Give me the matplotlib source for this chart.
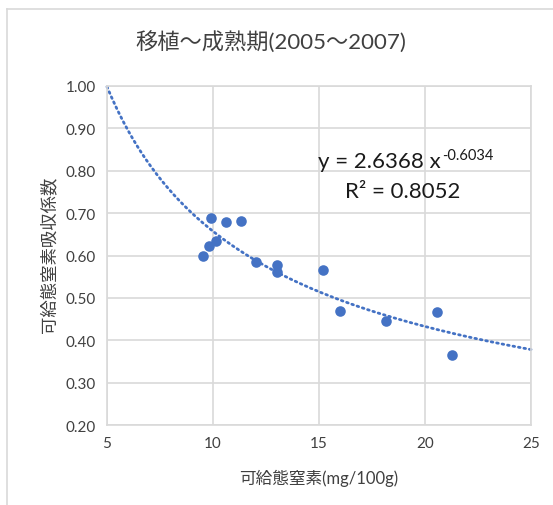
import numpy as np
import matplotlib
matplotlib.use("Agg")
import matplotlib.pyplot as plt
from matplotlib.lines import Line2D

plt.rcParams['font.family'] = ['Lato', 'Noto Sans CJK JP', 'DejaVu Sans']

# Available soil nitrogen (mg/100g) vs. nitrogen uptake coefficient
nitrogen = [9.53, 9.83, 10.13, 9.92, 10.63, 11.32, 12.03, 13.02, 13.02,
            15.19, 15.99, 18.18, 20.58, 21.25]
coef = [0.600, 0.622, 0.634, 0.688, 0.680, 0.682, 0.584, 0.578, 0.562,
        0.566, 0.469, 0.445, 0.466, 0.366]

# Power trendline y = a * x^b
fit_a = 2.6368
fit_b = -0.6034
fit_r2 = 0.8052

x_ticks = [5, 10, 15, 20, 25]
y_ticks = [0.20, 0.30, 0.40, 0.50, 0.60, 0.70, 0.80, 0.90, 1.00]

title = "移植～成熟期(2005～2007)"
x_label = "可給態窒素(mg/100g)"
y_label = "可給態窒素吸収係数"

W, H = 553, 506
fig = plt.figure(figsize=(W / 100, H / 100), dpi=100)


def fx(px):
    return px / W


def fy(py):
    return 1 - py / H


grid_c = "#d9d9d9"
blue = "#4472C4"
label_c = "#404040"

# chart frame (top and left edges)
fig.add_artist(Line2D([fx(7), 1.0], [fy(10), fy(10)], color=grid_c, lw=1.2,
                      transform=fig.transFigure))
fig.add_artist(Line2D([fx(7), fx(7)], [0.0, fy(10)], color=grid_c, lw=1.2,
                      transform=fig.transFigure))

left, right, top, bottom = 107, 531, 87, 426
ax = fig.add_axes([fx(left), fy(bottom), (right - left) / W, (bottom - top) / H])

ax.set_xlim(5, 25)
ax.set_ylim(0.2, 1.0)
ax.set_xticks(x_ticks)
ax.set_yticks(y_ticks)
ax.set_yticklabels([f"{v:.2f}" for v in y_ticks])
ax.grid(True, color=grid_c, lw=1.2)
ax.set_axisbelow(True)
for s in ax.spines.values():
    s.set_color(grid_c)
    s.set_linewidth(1.2)
ax.tick_params(length=0, labelsize=11, colors=label_c, pad=8)

xs = np.linspace(5, 25, 300)
ax.plot(xs, fit_a * xs ** fit_b, color=blue, lw=2.0, ls=(0, (0.6, 1.4)),
        dash_capstyle="round", zorder=2, clip_on=False)
ax.scatter(nitrogen, coef, s=58, color=blue, zorder=3, linewidths=0)

# trendline equation with a raised exponent
eq_main = fig.text(fx(318), fy(168), f"y = {fit_a:.4f} x", fontsize=16,
                   ha="left", va="baseline", color="#1a1a1a")
fig.canvas.draw()
bb = eq_main.get_window_extent(renderer=fig.canvas.get_renderer())
fig.text(bb.x1 / W + fx(1), fy(160), f"{fit_b:.4f}", fontsize=10.5,
         ha="left", va="baseline", color="#1a1a1a")
fig.text(fx(345), fy(198), f"R² = {fit_r2:.4f}", fontsize=16,
         ha="left", va="baseline", color="#1a1a1a")

fig.text(fx(271), fy(43), title, fontsize=16,
         ha="center", va="center", color=label_c)
fig.text(fx((left + right) / 2), fy(478), x_label, fontsize=12,
         ha="center", va="center", color=label_c)
fig.text(fx(49), fy(255), y_label, fontsize=12.5, rotation=90,
         ha="center", va="center", color=label_c)

fig.savefig("out.png", dpi=100)
